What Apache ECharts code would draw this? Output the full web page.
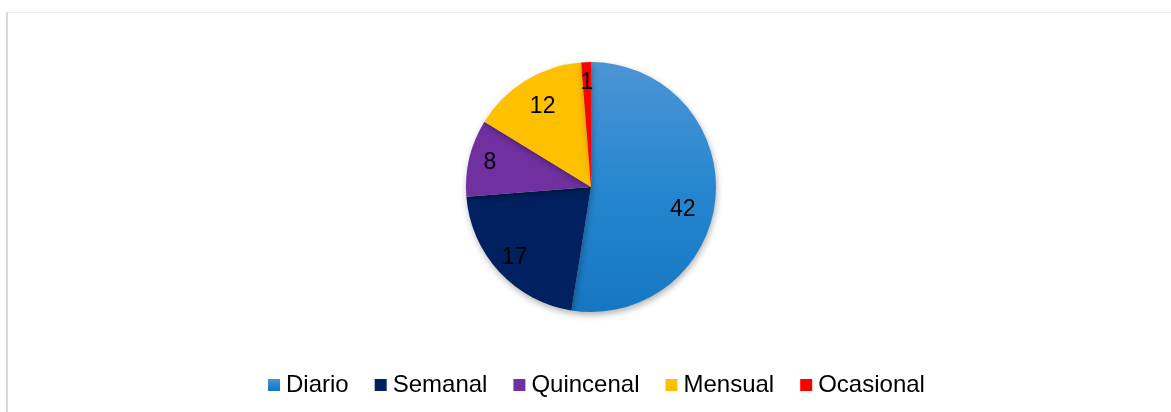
<!DOCTYPE html>
<html>
<head>
<meta charset="utf-8">
<script src="https://cdn.jsdelivr.net/npm/echarts@6/dist/echarts.min.js"></script>
<style>
html,body{margin:0;padding:0;background:#fff;}
#c{width:1171px;height:412px;}
</style>
</head>
<body>
<div id="c"></div>
<script>
const categories = ['Diario', 'Semanal', 'Quincenal', 'Mensual', 'Ocasional'];
const values = [42, 17, 8, 12, 1];

const colors = [
  new echarts.graphic.LinearGradient(0, 0, 0, 1, [
    {offset: 0, color: '#4d94d4'},
    {offset: 0.5, color: '#2687d0'},
    {offset: 1, color: '#1676c2'}
  ]),
  '#002060', '#7030a0', '#ffc000', '#ff0000'
];

const chart = echarts.init(document.getElementById('c'));
const font = '"Liberation Sans", Arial, sans-serif';
// small label nudges to mimic the original label placement
const labelNudge = {0: [-12, 14], 3: [6, 8]};

chart.setOption({
  animation: false,
  backgroundColor: '#ffffff',
  graphic: [
    {type: 'rect', shape: {x: 6, y: 12, width: 1165, height: 1}, style: {fill: '#ececec'}, silent: true},
    {type: 'rect', shape: {x: 6, y: 12, width: 2, height: 400}, style: {fill: '#d9d9d9'}, silent: true}
  ],
  legend: {
    data: categories,
    left: 263,
    top: 368,
    itemWidth: 12,
    itemHeight: 12,
    itemGap: 26,
    icon: 'rect',
    textStyle: {fontFamily: font, fontSize: 24, color: '#000', padding: [0, 0, 0, 1]}
  },
  series: [
    {
      type: 'pie',
      center: [591, 187],
      radius: [0, 125],
      startAngle: 90,
      clockwise: true,
      label: {show: false},
      labelLine: {show: false},
      itemStyle: {
        shadowBlur: 6,
        shadowOffsetX: 1,
        shadowOffsetY: 3,
        shadowColor: 'rgba(0,0,0,0.3)'
      },
      emphasis: {disabled: true},
      data: categories.map((n, i) => ({name: n, value: values[i], itemStyle: {color: colors[i]}}))
    },
    {
      type: 'pie',
      center: [591, 187],
      radius: [78, 124],
      startAngle: 90,
      clockwise: true,
      silent: true,
      itemStyle: {color: 'rgba(0,0,0,0)'},
      label: {
        show: true,
        position: 'inside',
        formatter: '{c}',
        fontFamily: font,
        fontSize: 23,
        color: '#000'
      },
      labelLine: {show: false},
      emphasis: {disabled: true},
      data: categories.map((n, i) => {
        const d = {name: n, value: values[i]};
        if (labelNudge[i]) d.label = {offset: labelNudge[i]};
        return d;
      })
    }
  ]
});
</script>
</body>
</html>
